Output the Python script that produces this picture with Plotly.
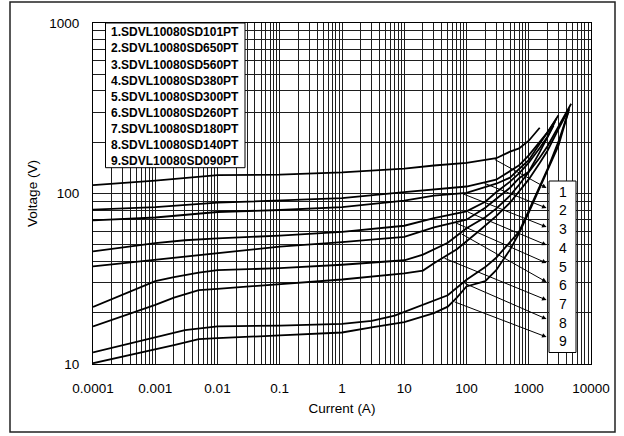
import numpy as np
import plotly.graph_objects as go

# ---------------- data ----------------
legend_names = [
    "1.SDVL10080SD101PT", "2.SDVL10080SD650PT", "3.SDVL10080SD560PT",
    "4.SDVL10080SD380PT", "5.SDVL10080SD300PT", "6.SDVL10080SD260PT",
    "7.SDVL10080SD180PT", "8.SDVL10080SD140PT", "9.SDVL10080SD090PT",
]
curve_labels = ["1", "2", "3", "4", "5", "6", "7", "8", "9"]

c1_I = [1e-4, 1e-3, 1e-2, 0.1, 1, 10, 30, 100, 300, 500, 700, 1000, 1500]
c1_V = [112, 119, 128, 129, 133, 140, 146, 151, 161, 176, 184, 204, 243]

c2_I = [1e-4, 1e-3, 1e-2, 0.1, 1, 10, 30, 100, 300, 500, 700, 1000, 1500, 2000, 3000]
c2_V = [80.4, 83.2, 88.3, 90.7, 94.0, 101.8, 106.0, 109.9, 120.5, 135.1, 146.2, 167.3, 201.3, 228.2, 287.9]

c3_I = [1e-4, 1e-3, 1e-2, 0.1, 1, 10, 30, 100, 300, 500, 700, 1000, 1500, 2000, 2500, 2800]
c3_V = [69.5, 72.3, 77.9, 80.0, 83.1, 90.7, 97.1, 100.7, 114.1, 123.8, 139.3, 156.8, 196.0, 227.3, 256.7, 274.6]

c4_I = [1e-4, 1e-3, 3e-3, 1e-2, 0.1, 1, 10, 30, 100, 200, 300, 500, 700, 1000, 1500, 2000, 2650]
c4_V = [45.8, 51.1, 53.2, 54.6, 56.6, 59.6, 64.7, 71.8, 78.5, 89.5, 101.6, 117.3, 131.3, 151.5, 185.1, 215.3, 263.7]

c5_I = [1e-4, 1e-3, 1e-2, 0.1, 1, 10, 30, 100, 200, 300, 500, 700, 1000, 1500, 2500]
c5_V = [37.4, 40.8, 44.5, 48.8, 51.8, 55.7, 63.2, 70.2, 82.6, 93.0, 108.1, 122.9, 134.3, 174.7, 249.9]

c6_I = [1e-4, 3e-4, 1e-3, 2e-3, 5e-3, 1e-2, 0.1, 1, 10, 20, 50, 100, 200, 300, 500, 700, 1000, 1500, 2000, 3000, 4800]
c6_V = [21.6, 25.4, 30.6, 32.3, 34.3, 35.5, 36.5, 38.2, 40.6, 43.8, 51.4, 62.6, 72.6, 81.5, 97.1, 112.6, 133.4, 162.2, 189.4, 246.5, 336]

c7_I = [1e-4, 1e-3, 2e-3, 5e-3, 1e-2, 0.1, 1, 10, 20, 30, 70, 150, 300, 500, 1000, 1500, 2000, 3000, 4500]
c7_V = [16.6, 22.2, 24.5, 27.1, 27.6, 29.4, 31.3, 34.0, 35.3, 39.0, 47.1, 59.3, 73.6, 88.3, 121.0, 150.8, 178.2, 238.3, 316.4]

c8_I = [1e-4, 1e-3, 3e-3, 1e-2, 0.1, 1, 3, 7, 20, 50, 100, 200, 300, 500, 700, 1000, 1500, 2000, 3000, 4440]
c8_V = [11.7, 14.4, 15.8, 16.6, 16.8, 17.2, 17.9, 19.2, 22.2, 25.3, 31.2, 37.0, 42.0, 51.8, 59.7, 79.3, 111.6, 138.8, 201.3, 310]

c9_I = [1e-4, 1e-3, 2e-3, 5e-3, 1e-2, 0.1, 1, 3, 10, 30, 50, 70, 100, 200, 300, 500, 700, 1000, 1500, 2000, 3000, 4290]
c9_V = [10.1, 12.1, 12.9, 14.0, 14.2, 14.7, 15.3, 16.4, 17.6, 19.9, 21.7, 24.5, 28.5, 30.6, 35.5, 46.8, 58.5, 77.2, 108.1, 134.3, 190.7, 298]

# current on each curve where its pointer arrow starts
arrow_tail_I = [270, 184, 84, 100, 65, 79, 42, 88, 61]

x_tickvals = [1e-4, 1e-3, 1e-2, 0.1, 1, 10, 100, 1000, 10000]
x_ticktext = ["0.0001", "0.001", "0.01", "0.1", "1", "10", "100", "1000", "10000"]
y_tickvals = [10, 100, 1000]
y_ticktext = ["10", "100", "1000"]

curves_I = [c1_I, c2_I, c3_I, c4_I, c5_I, c6_I, c7_I, c8_I, c9_I]
curves_V = [c1_V, c2_V, c3_V, c4_V, c5_V, c6_V, c7_V, c8_V, c9_V]

# ---------------- figure ----------------
FONT = "Arial, Liberation Sans, sans-serif"
W, H = 624, 436
L, R, T, B = 93, 33, 23, 72
XR = [-4, 4]
YR = [1, 3]

fig = go.Figure()
for I, V in zip(curves_I, curves_V):
    fig.add_trace(go.Scatter(x=I, y=V, mode="lines",
                             line=dict(color="black", width=1.8),
                             showlegend=False, hoverinfo="skip"))

grid_col = "#1e1e1e"
fig.update_xaxes(type="log", range=XR, tickvals=x_tickvals, ticktext=x_ticktext,
                 showgrid=True, gridcolor=grid_col, gridwidth=1,
                 minor=dict(dtick="D1", showgrid=True, gridcolor=grid_col, gridwidth=1),
                 showline=True, mirror=True, linecolor="black", linewidth=1,
                 ticks="", ticklabelstandoff=12,
                 tickfont=dict(family=FONT, size=13.5, color="black"),
                 title=dict(text="Current (A)", standoff=8,
                            font=dict(family=FONT, size=13.5, color="black")),
                 zeroline=False)
fig.update_yaxes(type="log", range=YR, tickvals=y_tickvals, ticktext=y_ticktext,
                 showgrid=True, gridcolor=grid_col, gridwidth=1,
                 minor=dict(dtick="D1", showgrid=True, gridcolor=grid_col, gridwidth=1),
                 showline=True, mirror=True, linecolor="black", linewidth=1,
                 ticks="", ticklabelstandoff=10,
                 tickfont=dict(family=FONT, size=13.5, color="black"),
                 title=dict(text="Voltage (V)", standoff=8,
                            font=dict(family=FONT, size=13.5, color="black")),
                 zeroline=False)

pw = W - L - R
ph = H - T - B


def px2paper_x(px):
    return (px - L) / pw


def py2paper_y(py):
    return (H - B - py) / ph


shapes = []
# outer frame
shapes.append(dict(type="rect", xref="paper", yref="paper",
                   x0=px2paper_x(10), x1=px2paper_x(615),
                   y0=py2paper_y(432), y1=py2paper_y(2),
                   line=dict(color="#222", width=1.5), fillcolor="rgba(0,0,0,0)", layer="above"))
# legend box
shapes.append(dict(type="rect", xref="paper", yref="paper",
                   x0=px2paper_x(105.5), x1=px2paper_x(245),
                   y0=py2paper_y(167.7), y1=py2paper_y(23),
                   line=dict(color="black", width=1), fillcolor="white", layer="above"))
# label box
shapes.append(dict(type="rect", xref="paper", yref="paper",
                   x0=px2paper_x(549), x1=px2paper_x(576),
                   y0=py2paper_y(352.5), y1=py2paper_y(181),
                   line=dict(color="black", width=1), fillcolor="white", layer="above"))

annotations = []
for k, name in enumerate(legend_names):
    annotations.append(dict(xref="paper", yref="paper",
                            x=px2paper_x(109), y=py2paper_y(32.3 + 16.1 * k),
                            xanchor="left", yanchor="middle", showarrow=False,
                            text="<b>%s</b>" % name,
                            font=dict(family=FONT, size=12, color="black")))

for k, lab in enumerate(curve_labels):
    annotations.append(dict(xref="paper", yref="paper",
                            x=px2paper_x(562.7), y=py2paper_y(191.7 + 18.7 * k),
                            xanchor="center", yanchor="middle", showarrow=False,
                            text=lab, font=dict(family=FONT, size=14, color="black")))

# pointer arrows from curves to the labels
head_py = [188, 208, 227, 245, 263, 282, 300, 319, 337]
head_px = 546.5
for k in range(9):
    lI = np.log10(curves_I[k])
    lV = np.log10(curves_V[k])
    tx = np.log10(arrow_tail_I[k])
    ty = float(np.interp(tx, lI, lV))
    hx = XR[0] + (XR[1] - XR[0]) * px2paper_x(head_px)
    hy = YR[0] + (YR[1] - YR[0]) * py2paper_y(head_py[k])
    annotations.append(dict(xref="x", yref="y", x=hx, y=hy,
                            axref="x", ayref="y", ax=tx, ay=ty,
                            text="", showarrow=True, arrowhead=2, arrowsize=0.9,
                            arrowwidth=1, arrowcolor="black", standoff=0, startstandoff=0))

fig.update_layout(width=W, height=H, autosize=False,
                  margin=dict(l=L, r=R, t=T, b=B, pad=0),
                  paper_bgcolor="white", plot_bgcolor="white",
                  shapes=shapes, annotations=annotations,
                  font=dict(family=FONT, color="black"),
                  showlegend=False, hovermode=False)

fig.write_html("out.html",
               config={"displayModeBar": False, "staticPlot": True},
               post_script="document.body.style.margin='0';document.body.style.overflow='hidden';")
